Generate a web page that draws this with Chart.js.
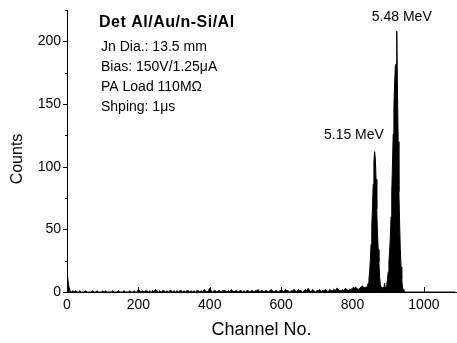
<!DOCTYPE html>
<html>
<head>
<meta charset="utf-8">
<script src="https://cdn.jsdelivr.net/npm/chart.js@4.4.1/dist/chart.umd.min.js"></script>
<style>
html,body{margin:0;padding:0;background:#fff;}
#wrap{width:457px;height:343px;position:relative;}
</style>
</head>
<body>
<div id="wrap"><canvas id="c" width="457" height="343"></canvas></div>
<script>
// Baseline region: channels 0..836, step 4
const baseStart = 0, baseStep = 4;
const baseCounts = [
  17,6,1,0,1,0,1,0,0,1,
  0,0,0,1,0,0,0,0,1,0,
  0,1,0,0,0,1,0,1,0,0,
  0,0,1,0,0,0,1,0,0,0,
  1,0,0,0,1,0,0,1,0,0,
  2,1,0,1,0,1,1,0,1,0,
  1,0,2,1,0,1,0,1,1,0,
  1,0,1,1,0,1,0,1,0,1,
  1,0,1,0,1,1,0,1,0,1,
  0,1,1,0,1,0,2,1,0,1,
  3,1,0,1,1,0,1,1,0,1,
  1,1,0,1,0,2,1,0,1,1,
  0,1,1,0,1,0,1,1,0,1,
  1,0,1,1,2,0,1,1,0,1,
  1,0,1,2,1,0,1,1,0,1,
  1,1,0,2,1,1,0,1,1,2,
  1,0,2,1,1,0,1,2,1,3,
  1,0,2,1,0,1,1,2,0,1,
  1,2,1,0,2,1,1,2,1,3,
  2,1,1,2,1,3,2,1,2,2,
  3,2,4,3,2,3,4,5,3,4
];
// Peak region: channels 838..944, step 2
const peakStart = 838, peakStep = 2;
const peakCounts = [
  3,4,5,7,10,16,26,38,52,68,
  86,104,112,106,90,66,46,34,24,12,
  6,4,3,2,4,3,7,3,4,6,
  10,16,24,32,44,60,80,102,126,148,
  166,180,182,208,160,120,80,55,34,20,
  10,4,2,0
];
// Tail region: channels 948..1088, step 4
const tailStart = 948, tailStep = 4;
const tailCounts = [0,0,0,0,0,0,0,0,0,0,0,0,0,0,0,0,0,0,0,0,0,0,0,0,0,0,0,0,0,0,0,0,0,0,0,0];

const xTicks = [0,200,400,600,800,1000];
const yMajor = [0,50,100,150,200];
const yMinor = [25,75,125,175,225];
const xLabel = 'Channel No.';
const yLabel = 'Counts';
const infoTitle = 'Det Al/Au/n-Si/Al';
const infoLines = ['Jn Dia.: 13.5 mm','Bias: 150V/1.25\u03bcA','PA Load 110M\u03a9','Shping: 1\u03bcs'];
const peakLabels = [{text:'5.15 MeV', ch:804, cnt:125},{text:'5.48 MeV', ch:938, cnt:219}];

const pts = [];
baseCounts.forEach((v,i)=>pts.push({x:baseStart+i*baseStep,y:v}));
peakCounts.forEach((v,i)=>pts.push({x:peakStart+i*peakStep,y:v}));
tailCounts.forEach((v,i)=>pts.push({x:tailStart+i*tailStep,y:v}));

const FONT = "'Liberation Sans', Arial, Helvetica, sans-serif";

const decor = {
  id:'decor',
  afterDatasetsDraw(chart){
    const ctx = chart.ctx, xs = chart.scales.x, ys = chart.scales.y;
    const ca = chart.chartArea;
    ctx.save();
    ctx.strokeStyle = '#000'; ctx.lineWidth = 1;
    yMajor.forEach(v=>{const y=Math.round(ys.getPixelForValue(v))+0.5;ctx.beginPath();ctx.moveTo(ca.left-4,y);ctx.lineTo(ca.left,y);ctx.stroke();});
    yMinor.forEach(v=>{const y=Math.round(ys.getPixelForValue(v))+0.5;ctx.beginPath();ctx.moveTo(ca.left-2,y);ctx.lineTo(ca.left,y);ctx.stroke();});
    xTicks.forEach(v=>{const x=Math.round(xs.getPixelForValue(v))+0.5;ctx.beginPath();ctx.moveTo(x,ca.bottom);ctx.lineTo(x,ca.bottom-5);ctx.stroke();});
    ctx.fillStyle = '#000';
    ctx.textAlign = 'center'; ctx.textBaseline = 'middle';
    ctx.font = '18px ' + FONT;
    ctx.fillText(xLabel, (ca.left+ca.right)/2, 330);
    ctx.font = '16px ' + FONT;
    ctx.save();
    ctx.translate(18, 159); ctx.rotate(-Math.PI/2);
    ctx.fillText(yLabel, 0, 0);
    ctx.restore();
    ctx.textAlign = 'left';
    ctx.font = 'bold 16px ' + FONT;
    try { ctx.letterSpacing = '0.5px'; } catch(e) {}
    ctx.fillText(infoTitle, ca.left+32, 23);
    try { ctx.letterSpacing = '0px'; } catch(e) {}
    ctx.font = '14px ' + FONT;
    infoLines.forEach((t,i)=>ctx.fillText(t, ca.left+34, 47+i*20));
    ctx.textAlign = 'center';
    peakLabels.forEach(p=>ctx.fillText(p.text, xs.getPixelForValue(p.ch), ys.getPixelForValue(p.cnt)));
    ctx.restore();
  }
};

new Chart(document.getElementById('c'), {
  type:'line',
  data:{datasets:[{data:pts, borderColor:'#000', backgroundColor:'#000', borderWidth:1, fill:'origin', pointRadius:0, tension:0}]},
  options:{
    responsive:false, animation:false, parsing:false,
    layout:{padding:{top:10,right:1,left:0,bottom:0}},
    plugins:{legend:{display:false}, tooltip:{enabled:false}},
    scales:{
      x:{type:'linear', min:0, max:1090,
        afterFit(s){s.height=51; s.paddingLeft=0; s.paddingRight=0;},
        grid:{display:false, drawTicks:false},
        border:{display:true, color:'#000', width:1},
        ticks:{stepSize:200, includeBounds:false, color:'#000', padding:5, maxRotation:0, font:{family:FONT, size:14}, callback:v=>String(v)}
      },
      y:{type:'linear', min:0, max:225,
        afterFit(s){s.width=67; s.paddingTop=0; s.paddingBottom=0;},
        grid:{display:false, drawTicks:false},
        border:{display:true, color:'#000', width:1},
        ticks:{stepSize:50, includeBounds:false, color:'#000', padding:6, font:{family:FONT, size:14}, callback:v=>String(v)}
      }
    }
  },
  plugins:[decor]
});
</script>
</body>
</html>
